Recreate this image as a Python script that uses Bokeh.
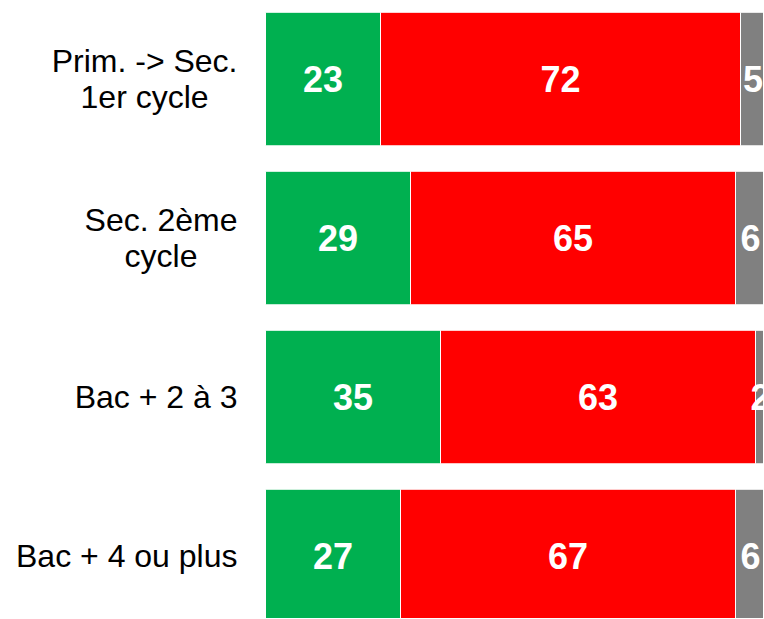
import numpy as np
from bokeh.plotting import figure
from bokeh.models import Range1d, ColumnDataSource
from bokeh.core.properties import value
from bokeh.embed import file_html
from bokeh.resources import INLINE

categories = ["Prim. -> Sec.\n1er cycle", "Sec. 2ème\ncycle", "Bac + 2 à 3", "Bac + 4 ou plus"]
green_vals = [23, 29, 35, 27]
red_vals = [72, 65, 63, 67]
gray_vals = [5, 6, 2, 6]
colors = ["#00B050", "#FF0000", "#808080"]

n = len(categories)
ypos = np.arange(n)[::-1].astype(float)

# 5 px per unit; label gutter of 265 px to the left of 0
p = figure(width=763, height=618, output_backend="svg", toolbar_location=None,
           x_range=Range1d(-53, 99.6), y_range=Range1d(-0.393, 3.450),
           min_border_left=0, min_border_right=0, min_border_top=7, min_border_bottom=0)

series = [green_vals, red_vals, gray_vals]
left = np.zeros(n)
for vals, col in zip(series, colors):
    v = np.array(vals, dtype=float)
    right = left + v
    src = ColumnDataSource(dict(y=ypos, left=left, right=right,
                                xc=(left + right) / 2, txt=[str(int(a)) for a in v]))
    p.hbar(y="y", left="left", right="right", height=0.84, source=src,
           fill_color=col, line_color="white", line_width=1)
    p.text(x="xc", y="y", text="txt", source=src, text_color="white",
           text_font=value("Liberation Sans"), text_font_style="bold",
           text_font_size="36px", text_align="center", text_baseline="middle")
    left = right

lab_src = ColumnDataSource(dict(x=np.zeros(n), y=ypos, txt=categories))
p.text(x="x", y="y", text="txt", source=lab_src, x_offset=-28,
       anchor="center_right", text_align="center", text_baseline="middle",
       text_font=value("Liberation Sans"), text_font_size="32px",
       text_color="black", text_line_height=1.0)

p.xaxis.visible = False
p.yaxis.visible = False
p.xgrid.visible = False
p.ygrid.visible = False
p.outline_line_color = None

open("out.html", "w").write(file_html(p, INLINE))
